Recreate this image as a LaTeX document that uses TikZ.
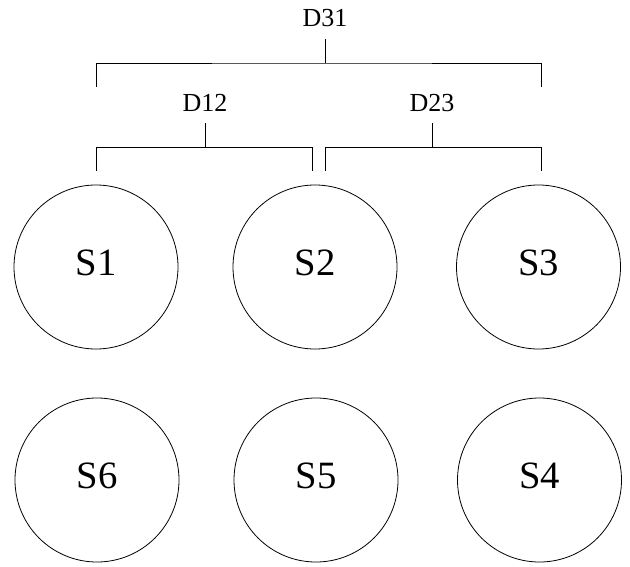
\documentclass[tikz,border=0pt]{standalone}
\usepackage{fontspec}
\setmainfont{Liberation Serif}

\begin{document}
\begin{tikzpicture}[x=0.75pt,y=-0.75pt,line width=0.6pt,
	stn/.style={draw,circle,minimum size=123pt,inner sep=0pt,text depth=6pt,font=\fontsize{29}{30}\selectfont},
	dlab/.style={inner sep=0pt,font=\fontsize{19.5}{21}\selectfont}]
	\useasboundingbox (0,0) rectangle (630,566);
	% stations
	\node[stn] (s1) at (96,267) {S1};
	\node[stn] (s2) at (315,267) {S2};
	\node[stn] (s3) at (538.5,267) {S3};
	\node[stn] (s6) at (97,480) {S6};
	\node[stn] (s5) at (316,480) {S5};
	\node[stn] (s4) at (539.5,480) {S4};
	% distance labels
	\node[dlab] (d12) at (205,103) {D12};
	\node[dlab] (d23) at (432,103) {D23};
	\node[dlab] (d31) at (325,18) {D31};
	% bracket ends and middles
	\coordinate (a1) at (96,171);
	\coordinate (a2) at (312,171);
	\coordinate (b2) at (325,171);
	\coordinate (b3) at (541,171);
	\coordinate (c1) at (96,87);
	\coordinate (c3) at (541,87);
	\coordinate (m12) at (205,147.5);
	\coordinate (m23) at (432,147.5);
	\coordinate (m31) at (325,63);
	\coordinate (t12) at (205,123);
	\coordinate (t23) at (432,123);
	\coordinate (t31) at (325,39);
	% brackets
	\draw (a1) |- (m12) -| (a2);
	\draw (m12) -- (t12);
	\draw (b2) |- (m23) -| (b3);
	\draw (m23) -- (t23);
	\draw (c1) |- (m31) -| (c3);
	\draw (m31) -- (t31);
\end{tikzpicture}
\end{document}
